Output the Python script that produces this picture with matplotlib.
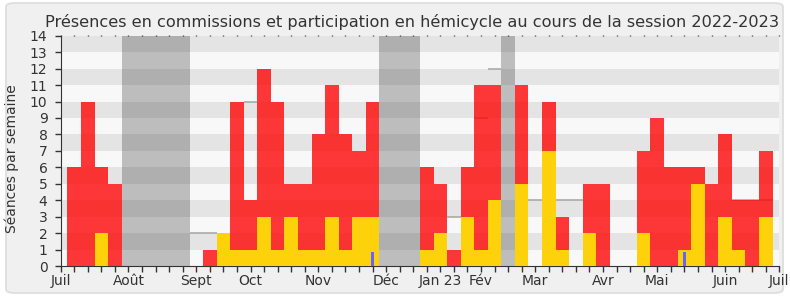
import numpy as np
import matplotlib.pyplot as plt
from matplotlib.patches import FancyBboxPatch

# semaines de la session (1 = première semaine de juillet 2022)
weeks = np.arange(1, 53)

# présences en commission (partie rouge)
commission = [6, 10, 4, 5, 0, 0, 0, 0, 0, 0, 1, 0, 9, 3, 9, 9, 2, 4, 7, 8,
              7, 4, 7, 0, 0, 0, 5, 3, 1, 3, 10, 7, 0, 6, 0, 3, 2, 0, 3, 5,
              0, 0, 5, 9, 6, 5, 1, 5, 5, 3, 4, 4]
# participation en hémicycle (partie jaune)
hemicycle = [0, 0, 2, 0, 0, 0, 0, 0, 0, 0, 0, 2, 1, 1, 3, 1, 3, 1, 1, 3,
             1, 3, 3, 0, 0, 0, 1, 2, 0, 3, 1, 4, 0, 5, 0, 7, 1, 0, 2, 0,
             0, 0, 2, 0, 0, 1, 5, 0, 3, 1, 0, 3]
# questions orales (petites barres bleues)
questions = [0] * 52
questions[22] = 0.85
questions[45] = 0.85
# présence médiane (visible seulement par endroits)
nan = np.nan
mediane = [nan] * 52
for w, v in [(10, 2), (11, 2), (14, 10), (29, 3), (31, 9), (32, 12), (35, 4),
             (37, 4), (38, 4), (50, 4), (51, 4), (52, 4)]:
    mediane[w - 1] = v

# vacances parlementaires (première et dernière semaine)
vacances = [(5, 9), (24, 26), (33, 33)]

month_labels = ['Juil', 'Août', 'Sept', 'Oct', 'Nov', 'Déc', 'Jan 23', 'Fév',
                'Mar', 'Avr', 'Mai', 'Juin', 'Juil']
month_weeks = [0, 5, 10, 14, 19, 24, 28, 31, 35, 40, 44, 49, 53]

fig = plt.figure(figsize=(7.9, 3.0), dpi=100)
fig.patch.set_facecolor('white')
fig.patches.append(FancyBboxPatch((6 / 790, 7 / 300), 777 / 790, 290 / 300,
                                  boxstyle='round,pad=0,rounding_size=0.012',
                                  transform=fig.transFigure, facecolor='#f0f0f0',
                                  edgecolor='#dcdcdc', lw=1.2, zorder=-10))

ax = fig.add_axes([60.7 / 790, 34 / 300, 718.6 / 790, 230.3 / 300])
ax.set_facecolor('#f8f8f8')
for k in range(1, 14, 2):
    ax.axhspan(k, k + 1, color='#e4e4e4', lw=0, zorder=0)
for a, b in vacances:
    ax.axvspan(a - 0.5, b + 0.5, color='#373737', alpha=0.3, lw=0, zorder=1)

med = np.array(mediane, dtype=float)
ok = ~np.isnan(med)
ax.hlines(med[ok], weeks[ok] - 0.5, weeks[ok] + 0.5, color='#aaaaaa', lw=1.2, zorder=1.5)

ax.bar(weeks, hemicycle, width=1, color='#fdd20a', lw=0, zorder=3)
ax.bar(weeks, commission, bottom=hemicycle, width=1, color='#ff0000', alpha=0.78,
       lw=0, zorder=3)
ax.bar(weeks, questions, width=0.25, color='#6464ff', lw=0, zorder=4)

ax.set_xlim(0, 53)
ax.set_ylim(0, 14)
ax.set_yticks(range(0, 15))
ax.set_xticks(range(0, 54))
labels = [''] * 54
for w, m in zip(month_weeks, month_labels):
    labels[w] = m
ax.set_xticklabels(labels)
for s in ['top', 'right']:
    ax.spines[s].set_visible(False)
for s in ['left', 'bottom']:
    ax.spines[s].set_color('#333333')
ax.tick_params(axis='both', colors='#333333', labelsize=10, length=4.5, width=1)
ax.tick_params(axis='x', pad=1, top=True)
ax.tick_params(axis='y', pad=5)
for t in ax.xaxis.get_major_ticks():
    t.tick2line.set_markersize(1)

fig.text(412.5 / 790, 0.91, 'Présences en commissions et participation en hémicycle au cours de la session 2022-2023',
         ha='center', va='baseline', fontsize=11.6, color='#333333')
fig.text(12 / 790, 1 - 159 / 300, 'Séances par semaine', rotation=90,
         ha='center', va='center', fontsize=10, color='#333333')

fig.savefig('out.png', dpi=100)
